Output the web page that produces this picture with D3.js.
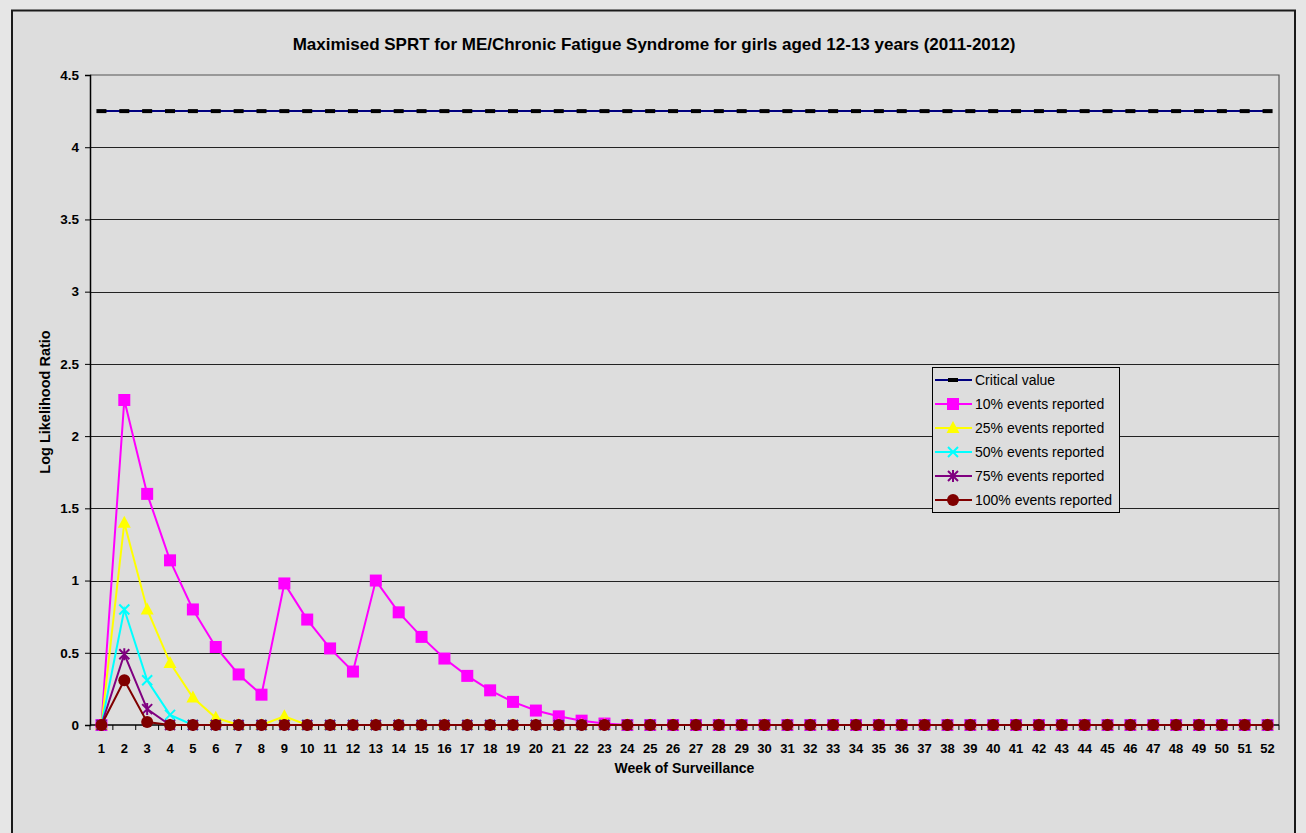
<!DOCTYPE html>
<html>
<head>
<meta charset="utf-8">
<script src="https://cdn.jsdelivr.net/npm/d3@7"></script>
<style>
  body { margin: 0; background: #e6e6e6; }
  svg { display: block; }
</style>
</head>
<body>
<div id="chart"></div>
<script>
// chart values
var weeks = d3.range(1, 53);
var critical_value = 4.25;
var pct10 = [0, 2.25, 1.60, 1.14, 0.80, 0.54, 0.35, 0.21, 0.98, 0.73, 0.53, 0.37, 1.00, 0.78, 0.61, 0.46, 0.34, 0.24, 0.16, 0.10, 0.06, 0.03, 0.01,
  0, 0, 0, 0, 0, 0, 0, 0, 0, 0, 0, 0, 0, 0, 0, 0, 0, 0, 0, 0, 0, 0, 0, 0, 0, 0, 0, 0, 0];
var pct25 = [0, 1.40, 0.80, 0.43, 0.19, 0.05, 0, 0, 0.06, 0,
  0, 0, 0, 0, 0, 0, 0, 0, 0, 0, 0, 0, 0, 0, 0, 0, 0, 0, 0, 0, 0, 0, 0, 0, 0, 0, 0, 0, 0, 0, 0, 0, 0, 0, 0, 0, 0, 0, 0, 0, 0, 0];
var pct50 = [0, 0.80, 0.31, 0.07, 0,
  0, 0, 0, 0, 0, 0, 0, 0, 0, 0, 0, 0, 0, 0, 0, 0, 0, 0, 0, 0, 0, 0, 0, 0, 0, 0, 0, 0, 0, 0, 0, 0, 0, 0, 0, 0, 0, 0, 0, 0, 0, 0, 0, 0, 0, 0, 0];
var pct75 = [0, 0.49, 0.11, 0, 0,
  0, 0, 0, 0, 0, 0, 0, 0, 0, 0, 0, 0, 0, 0, 0, 0, 0, 0, 0, 0, 0, 0, 0, 0, 0, 0, 0, 0, 0, 0, 0, 0, 0, 0, 0, 0, 0, 0, 0, 0, 0, 0, 0, 0, 0, 0, 0];
var pct100 = [0, 0.31, 0.02, 0, 0,
  0, 0, 0, 0, 0, 0, 0, 0, 0, 0, 0, 0, 0, 0, 0, 0, 0, 0, 0, 0, 0, 0, 0, 0, 0, 0, 0, 0, 0, 0, 0, 0, 0, 0, 0, 0, 0, 0, 0, 0, 0, 0, 0, 0, 0, 0, 0];
var y_ticks = [0, 0.5, 1, 1.5, 2, 2.5, 3, 3.5, 4, 4.5];

var series = [
  { name: 'Critical value', values: weeks.map(function() { return critical_value; }), color: '#000080', marker: 'dash' },
  { name: '10% events reported', values: pct10, color: '#ff00ff', marker: 'square' },
  { name: '25% events reported', values: pct25, color: '#ffff00', marker: 'triangle' },
  { name: '50% events reported', values: pct50, color: '#00ffff', marker: 'x' },
  { name: '75% events reported', values: pct75, color: '#800080', marker: 'star' },
  { name: '100% events reported', values: pct100, color: '#800000', marker: 'circle' }
];

var width = 1306, height = 833;
var plot = { left: 90, top: 75, right: 1279, bottom: 725 };

var svg = d3.select('#chart').append('svg')
  .attr('width', width)
  .attr('height', height)
  .style('font-family', 'Arial, "Liberation Sans", sans-serif');

// outer frame
svg.append('rect')
  .attr('x', 12).attr('y', 10.5)
  .attr('width', 1283).attr('height', 840)
  .attr('fill', '#dddddd')
  .attr('stroke', '#1a1a1a').attr('stroke-width', 2);

var x = d3.scaleBand().domain(weeks).range([plot.left, plot.right]);
var y = d3.scaleLinear().domain([0, 4.5]).range([plot.bottom, plot.top]);

// plot frame (top/right) and gridlines
svg.append('path')
  .attr('d', `M${plot.left},${plot.top}H${plot.right}V${plot.bottom}`)
  .attr('fill', 'none').attr('stroke', '#555').attr('stroke-width', 1.2);

svg.append('g')
  .selectAll('line')
  .data(y_ticks.filter(function(d) { return d > 0 && d < 4.5; }))
  .enter()
  .append('line')
  .attr('x1', plot.left).attr('x2', plot.right)
  .attr('y1', function(d) { return Math.round(y(d)) + 0.5; })
  .attr('y2', function(d) { return Math.round(y(d)) + 0.5; })
  .attr('stroke', '#222').attr('stroke-width', 1);

// axes
var y_axis = svg.append('g')
  .attr('transform', `translate(${plot.left},0)`)
  .call(d3.axisLeft(y).tickValues(y_ticks).tickSize(5).tickPadding(6).tickFormat(d3.format('')));
y_axis.select('.domain').attr('stroke', '#000').attr('stroke-width', 1.5);
y_axis.selectAll('text').style('font-size', '13.5px').style('font-weight', 700).attr('fill', '#000');

var tick_x = weeks.map(function(w) { return x(w); }).concat([plot.right]);
var x_axis = svg.append('g');
x_axis.append('line')
  .attr('x1', plot.left).attr('x2', plot.right)
  .attr('y1', plot.bottom).attr('y2', plot.bottom)
  .attr('stroke', '#000').attr('stroke-width', 1.5);
x_axis.selectAll('line.tick')
  .data(tick_x)
  .enter()
  .append('line')
  .attr('class', 'tick')
  .attr('x1', function(d) { return d; }).attr('x2', function(d) { return d; })
  .attr('y1', plot.bottom).attr('y2', plot.bottom + 5)
  .attr('stroke', '#000');
x_axis.selectAll('text')
  .data(weeks)
  .enter()
  .append('text')
  .attr('x', function(d) { return x(d) + x.bandwidth() / 2; })
  .attr('y', 753)
  .attr('text-anchor', 'middle')
  .style('font-size', '13px')
  .style('font-weight', 700)
  .text(function(d) { return d; });

// titles
svg.append('text')
  .attr('x', 654).attr('y', 50)
  .attr('text-anchor', 'middle')
  .style('font-size', '17px').style('font-weight', 700)
  .text('Maximised SPRT for ME/Chronic Fatigue Syndrome for girls aged 12-13 years (2011-2012)');

svg.append('text')
  .attr('x', (plot.left + plot.right) / 2).attr('y', 773)
  .attr('text-anchor', 'middle')
  .style('font-size', '14px').style('font-weight', 700)
  .text('Week of Surveillance');

svg.append('text')
  .attr('transform', 'translate(50,402) rotate(-90)')
  .attr('text-anchor', 'middle')
  .style('font-size', '14.5px').style('font-weight', 700)
  .text('Log Likelihood Ratio');

// markers
function draw_marker(g, type, color) {
  if (type === 'dash') {
    g.append('rect').attr('x', -5).attr('y', -2).attr('width', 10).attr('height', 4).attr('fill', '#000');
  } else if (type === 'square') {
    g.append('rect').attr('x', -6).attr('y', -6).attr('width', 12).attr('height', 12).attr('fill', color);
  } else if (type === 'triangle') {
    g.append('path').attr('d', 'M0,-7L6.5,5L-6.5,5Z').attr('fill', color);
  } else if (type === 'x') {
    g.append('path').attr('d', 'M-5,-5L5,5M-5,5L5,-5').attr('stroke', color).attr('stroke-width', 2);
  } else if (type === 'star') {
    g.append('path').attr('d', 'M-5,-5L5,5M-5,5L5,-5M0,-6V6').attr('stroke', color).attr('stroke-width', 2);
  } else if (type === 'circle') {
    g.append('circle').attr('r', 6).attr('fill', color);
  }
}

var line = d3.line()
  .x(function(d, i) { return x(weeks[i]) + x.bandwidth() / 2; })
  .y(function(d) { return y(d); });

series.forEach(function(s) {
  var g = svg.append('g');
  g.append('path')
    .attr('d', line(s.values))
    .attr('fill', 'none')
    .attr('stroke', s.color)
    .attr('stroke-width', 2);
  g.selectAll('g.marker')
    .data(s.values)
    .enter()
    .append('g')
    .attr('class', 'marker')
    .attr('transform', function(d, i) { return `translate(${x(weeks[i]) + x.bandwidth() / 2},${y(d)})`; })
    .each(function() { draw_marker(d3.select(this), s.marker, s.color); });
});

// legend
var legend = svg.append('g').attr('transform', 'translate(932,367)');
legend.append('rect')
  .attr('x', 0.5).attr('y', 0.5)
  .attr('width', 187).attr('height', 145)
  .attr('fill', '#dddddd')
  .attr('stroke', '#000').attr('stroke-width', 1);

var legend_rows = legend.selectAll('g.row')
  .data(series)
  .enter()
  .append('g')
  .attr('class', 'row')
  .attr('transform', function(d, i) { return `translate(0,${13 + i * 24})`; });

legend_rows.append('line')
  .attr('x1', 3).attr('x2', 40)
  .attr('stroke', function(d) { return d.color; })
  .attr('stroke-width', 2);
legend_rows.append('g')
  .attr('transform', 'translate(21,0)')
  .each(function(d) { draw_marker(d3.select(this), d.marker, d.color); });
legend_rows.append('text')
  .attr('x', 43).attr('y', 5)
  .style('font-size', '14px')
  .text(function(d) { return d.name; });
</script>
</body>
</html>
